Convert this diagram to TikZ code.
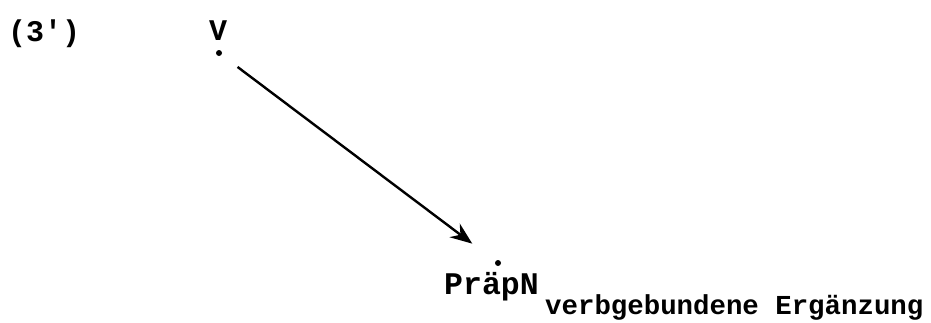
\documentclass[tikz,border=0pt]{standalone}
\usepackage{fontspec}
\newfontfamily\tw{Liberation Mono}
\usetikzlibrary{arrows.meta}
\begin{document}
\begin{tikzpicture}[x=1pt,y=-1pt,
  lbl/.style={inner sep=0pt,font=\tw\bfseries\fontsize{30}{32}\selectfont},
  plbl/.style={inner sep=0pt,font=\tw\bfseries\fontsize{31.5}{33}\selectfont},
  sublbl/.style={inner sep=0pt,font=\tw\bfseries\fontsize{27.4}{29}\selectfont},
  pt/.style={circle,fill=black,inner sep=0pt,minimum size=6pt},
  arr/.style={line width=2.4pt,-{Stealth[length=22pt,width=17pt]}}]
\useasboundingbox (0,0) rectangle (931,322);
\node[lbl,anchor=base west] (num) at (8,41) {(3')};
\node[lbl,anchor=base] (v) at (218,40) {V};
\node[pt] (vd) at (219,53) {};
\node[pt] (pd) at (498,263) {};
\node[plbl,anchor=base west] (p) at (444,294) {PräpN};
\node[sublbl,anchor=base west] (s) at (545,314) {verbgebundene Ergänzung};
\draw[arr,shorten <=20pt,shorten >=29pt] (vd) -- (pd);
\end{tikzpicture}
\end{document}
